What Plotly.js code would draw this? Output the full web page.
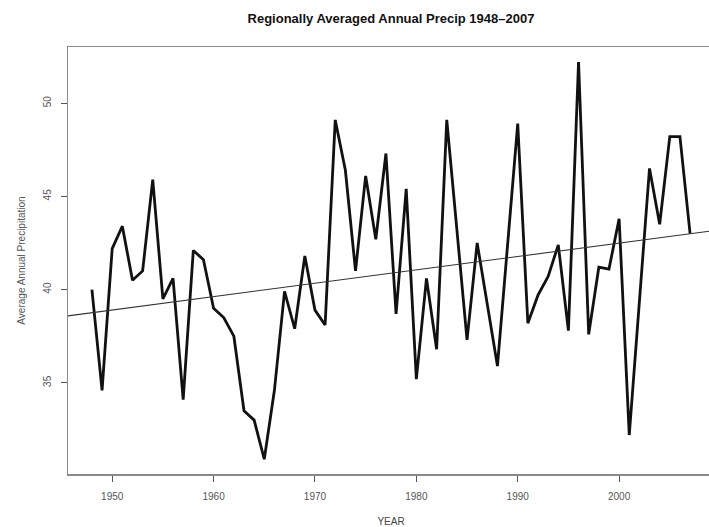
<!DOCTYPE html>
<html>
<head>
<meta charset="utf-8">
<script src="https://cdn.plot.ly/plotly-3.0.1.min.js"></script>
<style>
html, body { margin: 0; padding: 0; overflow: hidden; background: #fff; width: 709px; height: 527px; }
#chart { width: 714px; height: 527px; }
</style>
</head>
<body>
<div id="chart"></div>
<script>
// Data
const years = [1948,1949,1950,1951,1952,1953,1954,1955,1956,1957,
               1958,1959,1960,1961,1962,1963,1964,1965,1966,1967,
               1968,1969,1970,1971,1972,1973,1974,1975,1976,1977,
               1978,1979,1980,1981,1982,1983,1984,1985,1986,1987,
               1988,1989,1990,1991,1992,1993,1994,1995,1996,1997,
               1998,1999,2000,2001,2002,2003,2004,2005,2006,2007];
const precip = [40.0,34.6,42.2,43.4,40.5,41.0,45.9,39.5,40.6,34.1,
                42.1,41.6,39.0,38.5,37.5,33.5,33.0,30.9,34.6,39.9,
                37.9,41.8,38.9,38.1,49.1,46.4,41.0,46.1,42.7,47.3,
                38.7,45.4,35.2,40.6,36.8,49.1,43.2,37.3,42.5,39.2,
                35.9,42.4,48.9,38.2,39.7,40.7,42.4,37.8,52.2,37.6,
                41.2,41.1,43.8,32.2,39.4,46.5,43.5,48.2,48.2,43.0];
const xTickVals = [1950,1960,1970,1980,1990,2000];
const yTickVals = [35,40,45,50];
const titleText = "Regionally Averaged Annual Precip 1948\u20132007";
const xTitle = "YEAR";
const yTitle = "Average Annual Precipitation";

// R-style axis ranges (4% padding)
const xmin = Math.min(...years), xmax = Math.max(...years);
const xpad = (xmax - xmin) * 0.04;
const xRange = [xmin - xpad, xmax + xpad];
const yRange = [30.11, 53.01];

// Least-squares trend line (abline of lm)
const n = years.length;
const mx = years.reduce((a,b)=>a+b,0)/n;
const my = precip.reduce((a,b)=>a+b,0)/n;
let sxy = 0, sxx = 0;
for (let i = 0; i < n; i++) { sxy += (years[i]-mx)*(precip[i]-my); sxx += (years[i]-mx)**2; }
const slope = sxy/sxx, intercept = my - slope*mx;
const trendX = xRange;
const trendY = trendX.map(x => intercept + slope*x);

const traces = [
  { x: years, y: precip, type: 'scatter', mode: 'lines',
    line: { color: '#111', width: 2.8 }, hoverinfo: 'x+y' },
  { x: trendX, y: trendY, type: 'scatter', mode: 'lines',
    line: { color: '#333', width: 1.1 }, hoverinfo: 'skip' }
];

const axisCommon = {
  showgrid: false, zeroline: false, showline: true, mirror: true,
  linecolor: '#8a8a8a', linewidth: 1.5,
  ticks: 'outside', ticklen: 6, tickcolor: '#555', tickwidth: 1,
  tickfont: { family: 'Liberation Sans, Arial, sans-serif', size: 10, color: '#555' }
};

const layout = {
  width: 714, height: 527,
  margin: { l: 68, r: 0, t: 47, b: 53 },
  paper_bgcolor: '#fff', plot_bgcolor: '#fff',
  showlegend: false,
  title: { text: titleText, x: 0.5, xref: 'paper', xanchor: 'center',
           y: 1 - 18/527, yref: 'container', yanchor: 'middle',
           font: { family: 'Liberation Sans, Arial, sans-serif', size: 13, color: '#111', weight: 'bold' } },
  xaxis: Object.assign({}, axisCommon, {
    range: xRange, tickvals: xTickVals, ticktext: xTickVals.map(String),
    ticklabelstandoff: 6,
    title: { text: xTitle, standoff: 17,
             font: { family: 'Liberation Sans, Arial, sans-serif', size: 10, color: '#444' } }
  }),
  yaxis: Object.assign({}, axisCommon, {
    range: yRange, tickvals: yTickVals, ticktext: yTickVals.map(String),
    tickangle: -90, ticklabelstandoff: 6,
    title: { text: yTitle, standoff: 14,
             font: { family: 'Liberation Sans, Arial, sans-serif', size: 10, color: '#555' } }
  })
};

Plotly.newPlot('chart', traces, layout, { displayModeBar: false, staticPlot: true });
</script>
</body>
</html>
